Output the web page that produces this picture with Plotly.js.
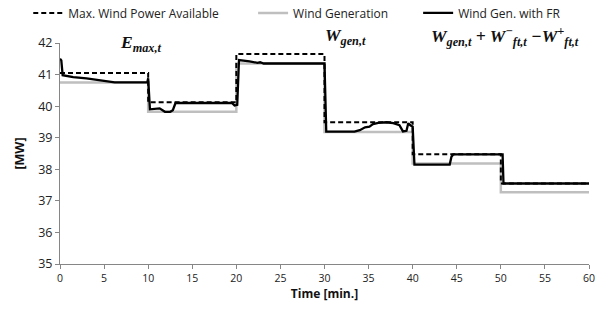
<!DOCTYPE html>
<html><head><meta charset="utf-8">
<script src="https://cdn.plot.ly/plotly-3.0.1.min.js"></script>
<style>body{margin:0;padding:0;background:#fff}#chart{width:598px;height:320px}</style>
</head><body><div id="chart"></div>
<script>
// Step series (one value per 10-minute block, last repeated for the end)
var blockTimes = [0, 10, 20, 30, 40, 50, 60];
var maxWindAvailable = [41.05, 40.12, 41.65, 39.49, 38.48, 37.55, 37.55];
var windGeneration = [40.75, 39.82, 41.35, 39.18, 38.18, 37.27, 37.27];

// Wind generation with frequency response
var frTime = [0, 0.15, 0.3, 1.5, 3, 4.5, 5.5, 6.2, 9.9, 10.0, 10.2, 11.3, 11.9, 12.5, 12.8, 13.1, 19.5, 19.8, 20.1, 20.3, 21.5, 21.9, 22.4, 22.7, 23.1, 30.0, 30.2, 33.4, 34.0, 34.6, 35.1, 35.5, 36.1, 37.0, 37.8, 38.5, 38.9, 39.3, 39.5, 39.7, 40.0, 40.2, 44.2, 44.4, 44.6, 50.2, 50.3, 60];
var frValue = [41.5, 41.45, 40.98, 40.92, 40.88, 40.82, 40.78, 40.75, 40.75, 40.88, 39.9, 39.93, 39.82, 39.82, 39.87, 40.1, 40.1, 40.02, 40.04, 41.46, 41.42, 41.4, 41.37, 41.39, 41.35, 41.35, 39.19, 39.19, 39.24, 39.33, 39.35, 39.43, 39.47, 39.49, 39.46, 39.4, 39.2, 39.22, 39.46, 39.4, 39.35, 38.15, 38.15, 38.4, 38.47, 38.47, 37.55, 37.55];

var xTicks = [0, 5, 10, 15, 20, 25, 30, 35, 40, 45, 50, 55, 60];
var yTicks = [35, 36, 37, 38, 39, 40, 41, 42];
var seriesNames = ['Max. Wind Power Available', 'Wind Generation', 'Wind Gen. with FR'];

var font = 'Open Sans, Liberation Sans, sans-serif';
var serif = 'Liberation Serif, DejaVu Serif, serif';
var traces = [
  {x: blockTimes, y: windGeneration, mode: 'lines', name: seriesNames[1], line: {shape: 'hv', color: '#bfbfbf', width: 2.5}, legend: 'legend2'},
  {x: blockTimes, y: maxWindAvailable, mode: 'lines', name: seriesNames[0], line: {shape: 'hv', color: '#000', width: 2, dash: '5px,3px'}, legend: 'legend'},
  {x: frTime, y: frValue, mode: 'lines', name: seriesNames[2], line: {color: '#000', width: 2.3}, legend: 'legend3'}
];
var legBase = {orientation: 'h', yanchor: 'middle', y: 1.136, xanchor: 'left', bgcolor: 'rgba(0,0,0,0)', font: {family: font, size: 12, color: '#222'}, itemwidth: 30};
var annFont = {family: serif, size: 17.5, color: '#111'};
var layout = {
  width: 598, height: 320,
  margin: {l: 60, r: 9, t: 43, b: 56, autoexpand: false},
  paper_bgcolor: '#fff', plot_bgcolor: '#fff',
  showlegend: true,
  legend: Object.assign({}, legBase, {x: -0.06}),
  legend2: Object.assign({}, legBase, {x: 0.365}),
  legend3: Object.assign({}, legBase, {x: 0.677}),
  xaxis: {range: [0, 60], tickvals: xTicks, ticktext: xTicks.map(String), showgrid: false, zeroline: false,
    showline: true, linecolor: '#868686', linewidth: 1, ticks: 'outside', ticklen: 4, tickcolor: '#868686',
    tickfont: {family: font, size: 10.5, color: '#222'},
    title: {text: '<b>Time [min.]</b>', font: {family: font, size: 12, color: '#111'}, standoff: 6}},
  yaxis: {range: [35, 42], tickvals: yTicks, ticktext: yTicks.map(String), showgrid: false, zeroline: false,
    showline: true, linecolor: '#868686', linewidth: 1, ticks: 'outside', ticklen: 4, tickcolor: '#868686',
    tickfont: {family: font, size: 12.5, color: '#222'},
    title: {text: '<b>[MW]</b>', font: {family: font, size: 12.5, color: '#111'}, standoff: 10}},
  annotations: [
    {xref: 'paper', yref: 'paper', x: 0.153, y: 1.0, xanchor: 'center', yanchor: 'middle', text: '<b><i>E<sub>max,t</sub></i></b>', showarrow: false, font: annFont},
    {xref: 'paper', yref: 'paper', x: 0.54, y: 1.03, xanchor: 'center', yanchor: 'middle', text: '<b><i>W<sub>gen,t</sub></i></b>', showarrow: false, font: annFont},
    {xref: 'paper', yref: 'paper', x: 0.842, y: 1.03, xanchor: 'center', yanchor: 'middle', text: '<b><i>W<sub>gen,t</sub> + W<sup>−</sup><sub>ft,t</sub> −W<sup>+</sup><sub>ft,t</sub></i></b>', showarrow: false, font: annFont}
  ]
};
Plotly.newPlot('chart', traces, layout, {staticPlot: true, displayModeBar: false});
</script></body></html>
